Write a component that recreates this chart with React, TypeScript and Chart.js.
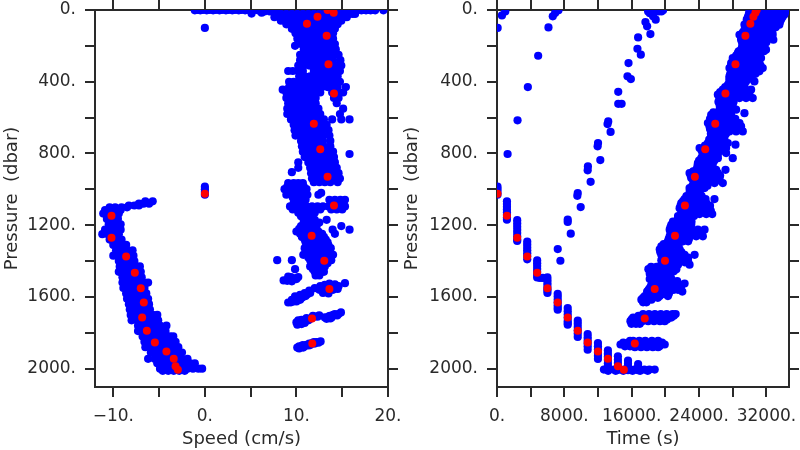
import React, { useEffect, useRef } from "react";
import { Chart, registerables } from "chart.js";

Chart.register(...registerables);

type Row = [number, number[]];

const redPressure = [0, 15, 37, 76, 143, 303, 465, 634, 777, 930, 1090, 1259, 1398, 1556, 1720, 1859, 1024, 1147, 1270, 1374, 1465, 1551, 1631, 1714, 1788, 1854, 1904, 1945, 1986, 2006];
const redSpeed = [13.4, 14.07, 12.3, 11.15, 13.3, 13.5, 14.1, 11.9, 12.6, 13.4, 14.1, 11.66, 13.04, 13.6, 11.7, 11.73, 0, -10.2, -10.2, -8.6, -7.65, -7.0, -6.67, -6.85, -6.34, -5.46, -4.2, -3.4, -3.2, -2.95];
const redTime = [30840, 30690, 30450, 30090, 29500, 28320, 27130, 25920, 24730, 23500, 22320, 21140, 19950, 18730, 17550, 16370, 60, 1180, 2400, 3590, 4770, 5990, 7210, 8400, 9590, 10770, 11990, 13170, 14360, 15070];

const speedSurface: Row[] = [
  [0, [-0.8, -0.2, 0.5, 1.2, 1.9, 2.6, 3.3, 4, 4.7, 5.4, 6.1, 6.8, 7.5, 15.3, 16, 16.7, 17.3, 17.9, 18.4]],
  [2, [-1.1, -0.5, 0.2, 0.9, 1.6, 2.3, 3, 3.7, 4.4, 5.1, 5.8, 6.5, 7.2, 7.9, 15, 15.7, 16.4, 17.1, 17.6, 18.1, 18.6, 19.5]],
  [8, [7.1, 6.5]],
  [15, [6.2]],
  [20, [5.1]],
  [100, [0]],
  [985, [0]],
  [1000, [0]],
  [1015, [0]],
  [1030, [0]],
];

const speedUpper: Row[] = [
  [22, [7.7, 8.3, 8.9, 9.5, 10.1, 10.7, 11.3, 11.9, 12.5, 13.1, 13.7, 14.3, 14.9, 15.5, 16.1, 16.4]],
  [40, [7.6, 8.2, 8.8, 9.4, 10, 10.6, 11.2, 11.8, 12.4, 13, 13.6, 14.2, 14.8, 15.5]],
  [60, [8.3, 8.9, 9.5, 10.1, 10.7, 11.3, 11.9, 12.5, 13.1, 13.7, 14.3, 14.9]],
  [80, [8.9, 9.5, 10.1, 10.7, 11.3, 11.9, 12.5, 13.1, 13.7, 14.5]],
  [105, [9.5, 10.1, 10.7, 11.3, 11.9, 12.5, 13.1, 13.7, 14.2]],
  [130, [9.9, 10.5, 11.1, 11.7, 12.3, 12.9, 13.5, 14]],
  [160, [10.1, 10.7, 11.3, 11.9, 12.5, 13.1, 13.7, 14]],
  [190, [10.5, 11.1, 11.7, 12.3, 12.9, 13.5, 14.2]],
  [200, [9.85]],
  [220, [10.8, 11.4, 12, 12.6, 13.2, 13.8, 14.3]],
  [250, [10.4, 11, 11.6, 12.2, 12.8, 13.4, 14, 14.6]],
  [280, [10.4, 11, 11.6, 12.2, 12.8, 13.4, 14, 14.8]],
  [310, [10.2, 10.8, 11.4, 12, 12.6, 13.2, 13.8, 14.4, 14.9]],
  [340, [9.1, 9.6, 10.2, 10.7, 11.9, 12.5, 13.1, 13.7, 14.2, 14.75]],
  [370, [10.3, 10.9, 11.5, 12.1, 12.7, 13.3, 13.9, 14.5]],
  [400, [9.2, 9.7, 10.4, 11, 11.6, 12.2, 12.8, 13.4, 14, 14.75]],
  [430, [9.2, 9.8, 10.4, 11, 11.6, 12.2, 12.8, 13.4, 14, 14.5, 15.4]],
  [444, [8.5]],
  [460, [8.9, 9.5, 10.1, 10.7, 11.3, 11.9, 12.6, 13.9, 14.5, 15.1]],
  [490, [8.9, 9.5, 10.1, 10.7, 11.3, 11.9, 12.1, 14.1, 14.6]],
  [520, [9.1, 9.7, 10.3, 10.9, 11.5, 12.1, 14.4]],
  [550, [9, 9.6, 10.2, 10.8, 11.4, 12, 12.4, 15.1]],
  [580, [9, 9.6, 10.2, 10.8, 11.4, 12, 12.6, 14.75]],
  [610, [9.4, 10, 10.6, 11.2, 11.8, 12.4, 13, 13.9, 14.9, 15.8]],
  [640, [9.7, 10.3, 10.9, 11.5, 12.1, 12.7, 13.3]],
  [670, [9.8, 10.4, 11, 11.6, 12.2, 12.8, 13.5]],
  [700, [9.9, 10.5, 11.1, 11.7, 12.3, 12.9, 13.6]],
  [730, [10.5, 11.1, 11.7, 12.3, 12.9, 13.7]],
  [760, [10.6, 11.2, 11.8, 12.4, 13, 13.7]],
  [790, [10.7, 11.3, 11.9, 12.5, 13.1, 13.7, 14]],
  [803, [15.8]],
  [820, [10.9, 11.5, 12.1, 12.7, 13.3, 13.9, 14.1]],
  [850, [10.2, 11.3, 11.9, 12.5, 13.1, 13.7, 14.2]],
  [880, [10.2, 11.5, 12.1, 12.7, 13.3, 13.9, 14.4]],
  [904, [9.5]],
  [910, [11.6, 12.2, 12.8, 13.4, 14, 14.6]],
  [940, [11.7, 12.3, 12.9, 13.5, 14.1, 14.75]],
  [960, [11.9, 12.5, 13.1, 13.7, 14.5]],
];

const speedMiddle: Row[] = [
  [965, [9.1, 9.7, 10.2, 10.7]],
  [985, [9, 9.6, 10.2, 10.8]],
  [999, [8.7, 9.3, 9.9, 10.5, 11.1]],
  [1020, [12.7]],
  [1030, [8.9, 9.5, 10.1, 10.7, 11.2, 12.4]],
  [1045, [9.6, 10.2, 10.7]],
  [1058, [9.9, 10.5, 11, 13.6, 14.2, 14.8, 15.3]],
  [1075, [9.7, 10.2, 10.8, 13.9, 14.5, 15]],
  [1095, [9.3, 9.9, 10.5, 11.1, 11.7, 12.3, 12.9, 13.5, 14.1, 14.7, 15.3]],
  [1112, [9.6, 10.2, 10.8, 11.4, 12, 12.6, 13.8, 14.4, 15]],
  [1130, [10.2, 10.8, 11.4, 12]],
  [1150, [10.5, 11.1, 11.7]],
  [1170, [10.8, 11.4, 12, 13.3]],
  [1185, [10.8, 11.4, 11.9, 12.5]],
  [1205, [10.5, 11.1, 11.7, 12.2, 14.9]],
  [1220, [10.3, 10.9, 11.5, 12.1]],
  [1225, [13.95, 15.8]],
  [1235, [10, 10.6, 11.2, 11.8, 12.4]],
  [1248, [14.2, 10.4, 11, 11.6, 12.2, 12.8]],
  [1265, [10.6, 11.2, 11.8, 12.4, 13]],
  [1280, [10.9, 11.5, 12.1, 12.7, 13.2]],
  [1295, [11, 11.6, 12.2, 12.8, 13.4]],
  [1312, [11.2, 11.8, 12.4, 13, 13.5]],
  [1328, [10.9, 11.5, 12.1, 12.7, 13.1, 13.75]],
  [1345, [11.2, 11.8, 12.4, 13, 13.6]],
  [1365, [10.75, 11.5, 12.1, 12.7, 13.3, 13.9, 14]],
  [1380, [11.3, 11.8, 12.4, 13, 13.6]],
  [1395, [7.9, 9.5, 11.5, 12.1, 12.7, 13.3, 13.8]],
  [1412, [11.7, 12.3, 12.9, 13.4]],
  [1430, [11.5, 12.1, 12.7, 13.1]],
  [1445, [11.8, 12.3, 12.9, 9.85]],
  [1460, [12, 12.5, 13]],
  [1480, [12.1, 12.5]],
  [1486, [9.1]],
  [1489, [10.2, 9.4]],
  [1495, [9.65]],
  [1500, [10, 9.3]],
  [1508, [8.6]],
  [1510, [9]],
  [1513, [9.5]],
];

const speedLowerBands: Row[] = [
  [1523, [15.3]],
  [1525, [13.6]],
  [1530, [14.2]],
  [1533, [13.1]],
  [1540, [12.6, 14.6]],
  [1545, [13.1, 13.7, 14.3]],
  [1551, [12]],
  [1555, [14.5]],
  [1560, [12.5, 13, 14]],
  [1565, [11.4, 13.5]],
  [1570, [13.3]],
  [1578, [10.9, 12.9, 11.5]],
  [1580, [13.5]],
  [1585, [11.2]],
  [1588, [10.4]],
  [1590, [10.6]],
  [1595, [11]],
  [1597, [9.85, 10.75]],
  [1605, [10.6]],
  [1610, [10.1]],
  [1616, [9.5, 10.4]],
  [1625, [9.65, 10]],
  [1630, [9.4]],
  [1631, [9.1]],
  [1686, [14.86]],
  [1695, [14.6]],
  [1696, [14.2]],
  [1700, [14]],
  [1703, [12.49, 14.45]],
  [1705, [13.65, 11.8]],
  [1709, [12]],
  [1710, [12.3, 13.5]],
  [1714, [13.1, 13.84]],
  [1718, [11.1, 11.65]],
  [1720, [13.7]],
  [1722, [13.29]],
  [1725, [11.4]],
  [1727, [10.56]],
  [1730, [10.2, 11.3]],
  [1735, [10.9]],
  [1742, [10]],
  [1745, [10.9]],
  [1751, [10.56]],
  [1755, [10.1]],
  [1848, [12.64]],
  [1852, [12.2, 11.9]],
  [1855, [12.4]],
  [1859, [11.65]],
  [1860, [11.4, 12]],
  [1867, [11.1]],
  [1868, [10.7, 11.5]],
  [1870, [11.3]],
  [1874, [10.56]],
  [1875, [10.3, 10.9]],
  [1882, [10.09, 10.74]],
  [1887, [10.3]],
];

const speedLeftCloud: Row[] = [
  [1067, [-6.5, -5.7]],
  [1080, [-7.2, -6.7, -6.1]],
  [1090, [-8.3, -7.7, -7.2]],
  [1100, [-10.4, -9.8, -9.1, -8.5]],
  [1115, [-10.9, -10.3, -9.7, -9.2]],
  [1135, [-11.1, -10.5, -9.9, -9.4]],
  [1165, [-10.7, -10.1, -9.5]],
  [1195, [-10.5, -9.9, -9.2]],
  [1225, [-10.9, -10.3, -9.7, -9.2]],
  [1250, [-11.2, -10.6, -10, -9.4]],
  [1280, [-10.4, -9.8, -9.1]],
  [1310, [-10, -9.4, -8.8, -8.6]],
  [1340, [-9.7, -9.1, -8.5, -7.9]],
  [1370, [-10, -9.4, -8.8, -8.2, -7.8]],
  [1400, [-9.4, -8.9, -8.3, -7.7]],
  [1430, [-9.3, -8.7, -8.1, -7.5, -7.1]],
  [1460, [-9.4, -8.8, -8.2, -7.6, -7]],
  [1490, [-9, -8.4, -7.8, -7.2, -6.9]],
  [1520, [-9, -8.4, -7.8, -7.2, -6.6, -6.2]],
  [1550, [-8.9, -8.3, -7.7, -7.1, -6.6]],
  [1580, [-8.6, -8, -7.4, -6.8, -6.4]],
  [1610, [-8.5, -7.9, -7.3, -6.7, -6.2]],
  [1640, [-8.3, -7.7, -7.1, -6.5, -6.1]],
  [1670, [-8.2, -7.6, -7, -6.4, -6]],
  [1700, [-8.1, -7.5, -6.9, -6.3, -5.7, -5.2]],
  [1730, [-8, -7.4, -6.8, -6.2, -5.6, -5.1]],
  [1760, [-7.3, -6.7, -6.1, -5.5, -4.9, -4.2]],
  [1790, [-7.3, -6.7, -6.1, -5.5, -4.9, -4.3]],
  [1820, [-6.8, -6.2, -5.6, -5, -4.4, -3.8, -3.45]],
  [1850, [-6.6, -6, -5.4, -4.8, -4.2, -3.6, -3.2]],
  [1880, [-6.5, -5.9, -5.3, -4.7, -4.1, -3.5, -2.9]],
  [1910, [-5.9, -5.3, -4.7, -4.1, -3.5, -2.9, -2.5]],
  [1945, [-6.2, -5.5, -4.9, -4.3, -3.7, -3.1, -2.5, -1.9]],
  [1970, [-5.2, -4.6, -4, -3.4, -2.8, -2.2, -1.6, -1.1]],
  [2000, [-4.9, -4.3, -3.7, -3.1, -2.5, -1.9, -1.3, -0.7, -0.3]],
  [2012, [-4.6, -4, -3.4, -2.8, -2.2]],
];

const timeSparse: Row[] = [
  [100, [76]], [30, [588]], [8, [983]], [97, [6112]], [35, [6625]], [17, [6900]], [2, [7300, 19720]],
  [255, [4889]], [430, [3665]], [615, [2440]], [803, [1259]],
  [985, [60]], [1000, [60]], [1015, [60]], [1030, [60]],
  [1494, [5440, 5100]],
  [2005, [12700, 13300, 13900, 14500, 15100, 15700, 16300, 16900, 17500, 18100, 18730]],
  [2012, [13200, 14100, 15000, 16100, 17000, 17900]],
];

const timeBarTimes = [1180, 2400, 3590, 4770, 5990, 7210, 8400, 9590, 10770, 11990, 13170, 14360, 15560, 16760];
const timeBarPressures = [
  [1067, 1082, 1097, 1112, 1127, 1142, 1157, 1169],
  [1172, 1190, 1208, 1226, 1244, 1262, 1280, 1288],
  [1292, 1308, 1324, 1340, 1356, 1372, 1390],
  [1396, 1412, 1428, 1444, 1460, 1476, 1491],
  [1491, 1507, 1523, 1539, 1555, 1566, 1578],
  [1582, 1598, 1614, 1630, 1646, 1660, 1671],
  [1662, 1680, 1698, 1716, 1734, 1745, 1755],
  [1732, 1750, 1768, 1786, 1804, 1823],
  [1807, 1824, 1841, 1858, 1875, 1894],
  [1857, 1875, 1893, 1911, 1929, 1946],
  [1898, 1916, 1934, 1952, 1970, 1985, 1996],
  [1931, 1950, 1968, 1986, 2005],
  [1955, 1972, 1990, 2008],
  [1974, 1990, 2008],
];
const timeBars: Row[] = timeBarTimes.flatMap((t, i) => timeBarPressures[i].map((p) => [p, [t]] as Row));

const timeMiddleLine: Row[] = [
  [8, [17950, 18340, 18740, 19130, 19520]],
  [18, [18150]], [35, [18540]], [54, [18850]], [67, [17630]], [91, [17830]], [134, [18220]],
  [153, [16760]], [216, [16680]], [249, [17080]], [296, [15620]], [370, [15500]], [385, [15900]],
  [456, [14400]], [523, [14400, 14800]], [621, [13210]], [636, [13130]], [680, [13490]],
  [742, [12000]], [760, [11950]], [837, [12270]], [872, [10800]], [894, [10770]], [958, [11120]],
  [1021, [9590]], [1036, [9540]], [1099, [9940]], [1169, [8400]], [1182, [8400]], [1247, [8760]],
  [1333, [7215]], [1398, [7530]],
];

const timeBands: Row[] = [
  [1845, [15800, 16170, 16900, 17600, 18400, 19130]],
  [1855, [15000, 15600, 16200, 16800, 17500, 18200, 18900, 19600]],
  [1865, [14670, 15300, 16000, 16700, 17400, 18100, 18800, 19500, 19920]],
  [1875, [15200, 15800, 16500, 17200, 17900, 18600, 19300]],
  [1880, [16370, 17100, 17800, 18500, 19130]],
  [1695, [17350, 18050, 18750, 19450, 20150, 20850, 21220]],
  [1705, [16800, 17500, 18200, 18900, 19600, 20300, 21000]],
  [1715, [16170, 16880, 17580, 18280, 18980, 19680, 20380, 20700]],
  [1725, [16000, 16700, 17400, 18100, 18800, 19500, 20200]],
  [1735, [15850, 16550, 17250, 17950, 18650, 19350, 19920]],
  [1750, [15970, 16500, 16960]],
];

const timeAscentLow: Row[] = [
  [1630, [17350, 17750]],
  [1615, [17150, 17750, 18340]],
  [1605, [17350, 17950, 18540, 19100]],
  [1595, [17550, 18140, 18730, 19330, 20300]],
  [1583, [18000, 18600, 19200, 19800, 20400]],
  [1570, [17830, 18540, 19130, 19720, 20510, 22010]],
  [1560, [18000, 18640, 19230, 19820, 20400, 21000, 21500]],
  [1550, [18140, 18730, 19330, 19920, 20510, 21100, 21720]],
  [1537, [18300, 18900, 19500, 20100, 20700, 21300, 21900]],
  [1525, [18540, 19130, 19720, 20300, 20900, 21500, 22280]],
  [1512, [18400, 19000, 19600, 20200, 20800, 21400]],
  [1500, [18140, 18730, 19330, 20110, 20700]],
  [1485, [18400, 19000, 19600, 20200, 20600]],
  [1470, [18140, 18730, 19330, 19920, 20510]],
  [1457, [18400, 19000, 19600, 20200, 20800, 21000]],
  [1445, [17980, 18730, 19330, 19920, 20510, 21300]],
  [1432, [18300, 18950, 19600, 20200, 20800, 21300]],
  [1420, [19520, 20110, 20700, 21500, 22870]],
  [1407, [19700, 20300, 20900, 21500, 22300]],
  [1395, [19520, 20300, 21100, 21890, 22680]],
  [1380, [19700, 20300, 20900, 21500, 22100, 22700]],
  [1365, [19520, 20110, 20900, 21500, 22280, 23470]],
  [1350, [19400, 20000, 20700, 21300, 21900]],
  [1335, [19330, 19920, 20510, 21690]],
  [1318, [19520, 20110, 20700, 21490]],
  [1305, [19800, 20400, 21000, 21600]],
  [1290, [20300, 20900, 21500, 22100, 22700]],
  [1276, [20400, 21000, 21600, 22200, 22800]],
  [1262, [20510, 21100, 21690, 22280, 22870, 23660, 24450]],
  [1243, [20600, 21200, 21800, 22400, 23000, 23700, 24300]],
  [1225, [20510, 21100, 21690, 22280, 23070, 23860, 24650]],
  [1212, [20600, 21200, 21800, 22400, 23000]],
  [1198, [20700, 21300, 21890, 22480, 23070]],
  [1180, [20900, 21500, 22100, 22700, 23100]],
  [1160, [21490, 22090, 22680]],
  [1149, [21500, 22100, 22700, 23400]],
  [1138, [22090, 22680, 23270, 24060, 24850, 25560]],
  [1120, [21900, 22500, 23100, 23700, 24300, 24900, 25400]],
  [1105, [21690, 22280, 22870, 23470, 24060, 24650, 25240]],
  [1091, [21800, 22400, 23000, 23600, 24200, 24800, 25300]],
  [1077, [21890, 22480, 23070, 23660, 24260, 24850]],
  [1065, [22100, 22700, 23300, 23900, 24500]],
  [1054, [22280, 22870, 23470, 24060, 24770, 25830]],
  [1037, [22500, 23100, 23700, 24300]],
  [1021, [22870, 23470, 24060]],
  [1007, [22900, 23500, 24100]],
  [993, [22870, 23470, 24060, 24650]],
  [980, [23200, 23800, 24400, 25000]],
  [965, [23470, 24060, 24850, 25830, 26820]],
  [950, [23300, 23900, 24500, 25100, 25800, 26400]],
  [937, [23070, 23860, 24450, 25040, 25830, 26430]],
  [923, [23000, 23600, 24200, 24800, 25400, 26000, 26500]],
  [909, [22870, 23470, 24260, 24850, 25630, 26230]],
  [900, [23300, 23900, 24500, 25100, 25800]],
  [891, [23660, 24450, 25240, 26030, 27140]],
  [872, [23800, 24400, 25000, 25600]],
  [854, [23860, 24450, 25040, 25630]],
  [840, [24000, 24600, 25200, 25800]],
  [826, [24260, 24850, 25440, 26230, 28000]],
  [812, [24400, 25000, 25600, 26200]],
  [798, [24450, 25040, 25630, 26230, 27210]],
  [784, [24300, 24900, 25500, 26100, 26700]],
  [770, [24060, 24850, 25630, 26430, 27210]],
  [756, [24700, 25300, 25900, 26500, 27100]],
  [751, [28320]],
  [742, [25040, 25830, 26620, 27410]],
  [723, [25200, 25800, 26400, 27000]],
  [705, [25440, 26230, 27020]],
  [690, [25400, 26000, 26600, 27200]],
  [677, [25440, 26030, 26820, 27610, 28400, 29190]],
  [663, [25300, 25900, 26500, 27100, 27800, 28500]],
  [649, [25240, 25830, 26620, 27410, 28200, 28990]],
];

const timeAscentHigh: Row[] = [
  [630, [25050, 25640, 26430, 27220, 28000, 28800]],
  [607, [25300, 25900, 26500, 27100, 27700, 28300]],
  [584, [25440, 26230, 27020, 27810]],
  [575, [29390]],
  [570, [25700, 26300, 26900, 27500]],
  [556, [26430, 27020, 27610, 28400]],
  [528, [26430, 27220, 28000]],
  [512, [26300, 26900, 27500, 28100]],
  [491, [26430, 27220, 28000, 28800, 29580, 30370]],
  [482, [26400, 27000, 27600, 28200, 28800, 29400, 30000]],
  [472, [26230, 26820, 27415, 28000, 28600, 29190, 29980]],
  [458, [26500, 27100, 27700, 28300, 28900, 29500]],
  [444, [26820, 27415, 28000, 28600, 29390, 30180]],
  [430, [27100, 27700, 28300, 28900, 29400]],
  [417, [27415, 28000, 28600]],
  [408, [27600, 28200, 28800, 29400]],
  [398, [27610, 28200, 28800, 29580, 30570]],
  [384, [27600, 28200, 28800, 29400, 30000]],
  [370, [27610, 28200, 28800, 29390, 30180]],
  [356, [27700, 28300, 28900, 29500, 30100, 30700]],
  [342, [27810, 28400, 29000, 29580, 30370, 31160]],
  [324, [27610, 28200, 28800, 29390, 30180, 30960, 31560]],
  [310, [27800, 28400, 29000, 29600, 30200, 30800, 31300]],
  [296, [27810, 28400, 28990, 29780, 30570, 31160]],
  [282, [28000, 28600, 29200, 29800, 30400, 31000]],
  [268, [28000, 28600, 29190, 29980, 30770, 31360]],
  [254, [28400, 29000, 29600, 30200, 30700]],
  [240, [28600, 29190, 29780, 30370]],
  [230, [28700, 29300, 29900, 30500, 31100, 31700]],
  [221, [28990, 29580, 30180, 30960, 31950]],
  [207, [29100, 29700, 30300, 30900, 31500]],
  [193, [29190, 29780, 30370, 30960, 31750]],
  [180, [29100, 29700, 30300, 30900, 31500, 32000]],
  [166, [28990, 29580, 30180, 30770, 31550, 32820]],
  [152, [29000, 29600, 30200, 30800, 31400, 32000, 32500]],
  [138, [28800, 29390, 29980, 30570, 31160, 31950, 32740]],
  [124, [29200, 29800, 30400, 31000, 31600, 32200, 32700]],
  [110, [29390, 29980, 30570, 31160, 31950, 32660]],
  [96, [29500, 30100, 30700, 31300, 31900, 32500, 33100]],
  [82, [29390, 29980, 30570, 31160, 31950, 32740, 33530]],
  [68, [29700, 30300, 30900, 31500, 32100, 32700, 33300, 33600]],
  [54, [29660, 30370, 30960, 31750, 32540, 33330, 33730]],
  [40, [29800, 30400, 31000, 31600, 32200, 32800, 33400, 33900]],
  [26, [29900, 30570, 31360, 32150, 32930, 33730, 34120]],
  [14, [30000, 30600, 31200, 31800, 32400, 33000, 33600, 34200]],
  [4, [29980, 30770, 31550, 32340, 33130, 33920, 34320]],
];

const speedTicks = [-10, -5, 0, 5, 10, 15, 20];
const speedLabels = ["\u221210.", "", "0.", "", "10.", "", "20."];
const timeTicks = [0, 4000, 8000, 12000, 16000, 20000, 24000, 28000, 32000];
const timeLabels = ["0.", "", "8000.", "", "16000.", "", "24000.", "", "32000."];
const pressureTicks = [0, 200, 400, 600, 800, 1000, 1200, 1400, 1600, 1800, 2000];
const pressureLabels = ["0.", "", "400.", "", "800.", "", "1200.", "", "1600.", "", "2000."];

const FONT = "'DejaVu Sans'";
const INK = "#2a2a2a";

const toPoints = (rows: Row[]) => rows.flatMap(([p, xs]) => xs.map((x) => ({ x, y: p })));

function makeConfig(
  blue: Row[][],
  redX: number[],
  xTitle: string,
  xMin: number,
  xMax: number,
  xTicks: number[],
  xLabels: string[],
  leftWidth: number,
  rightWidth: number
): any {
  const frame = {
    grid: { drawOnChartArea: false, tickLength: 10, lineWidth: 2, color: INK, tickColor: INK },
    border: { display: true, color: INK, width: 2 },
  };
  const setTicks = (values: number[]) => (s: any) => {
    s.ticks = values.map((value) => ({ value }));
  };
  const fitX = (height: number) => (s: any) => {
    s.height = height;
    s.paddingLeft = 0;
    s.paddingRight = 0;
  };
  const fitY = (width: number) => (s: any) => {
    s.width = width;
    s.paddingTop = 0;
    s.paddingBottom = 0;
  };
  const tickFont = { family: FONT, size: 17 };
  const titleFont = { family: FONT, size: 18 };
  return {
    type: "scatter",
    data: {
      datasets: [
        {
          data: redX.map((x, i) => ({ x, y: redPressure[i] })),
          backgroundColor: "#ff0000",
          borderWidth: 0,
          pointRadius: 4,
        },
        {
          data: blue.flatMap(toPoints),
          backgroundColor: "#0000ff",
          borderWidth: 0,
          pointRadius: 4.1,
        },
      ],
    },
    options: {
      animation: false,
      responsive: false,
      devicePixelRatio: 1,
      layout: { padding: 0 },
      plugins: { legend: { display: false }, tooltip: { enabled: false } },
      scales: {
        x: {
          type: "linear",
          position: "bottom",
          min: xMin,
          max: xMax,
          afterBuildTicks: setTicks(xTicks),
          afterFit: fitX(63),
          ...frame,
          ticks: { callback: (_: any, i: number) => xLabels[i], autoSkip: false, maxRotation: 0, padding: 9, color: INK, font: tickFont },
          title: { display: true, text: xTitle, color: INK, font: titleFont, padding: { top: 5, bottom: 0 } },
        },
        x2: {
          type: "linear",
          position: "top",
          min: xMin,
          max: xMax,
          afterBuildTicks: setTicks(xTicks),
          afterFit: fitX(10),
          ...frame,
          ticks: { display: false },
        },
        y: {
          type: "linear",
          position: "left",
          reverse: true,
          min: 0,
          max: 2102,
          afterBuildTicks: setTicks(pressureTicks),
          afterFit: fitY(leftWidth),
          ...frame,
          ticks: { callback: (_: any, i: number) => pressureLabels[i], autoSkip: false, padding: 9, color: INK, font: tickFont },
          title: { display: true, text: "Pressure  (dbar)", color: INK, font: titleFont, padding: { top: 2, bottom: 0 } },
        },
        y2: {
          type: "linear",
          position: "right",
          reverse: true,
          min: 0,
          max: 2102,
          afterBuildTicks: setTicks(pressureTicks),
          afterFit: fitY(rightWidth),
          ...frame,
          ticks: { display: false },
        },
      },
    },
  };
}

export default function App() {
  const leftRef = useRef<HTMLCanvasElement>(null);
  const rightRef = useRef<HTMLCanvasElement>(null);
  useEffect(() => {
    const left = new Chart(
      leftRef.current!,
      makeConfig([speedSurface, speedUpper, speedMiddle, speedLowerBands, speedLeftCloud], redSpeed, "Speed (cm/s)", -12, 20, speedTicks, speedLabels, 95, 22)
    );
    const right = new Chart(
      rightRef.current!,
      makeConfig([timeSparse, timeBars, timeMiddleLine, timeBands, timeAscentLow, timeAscentHigh], redTime, "Time (s)", 0, 34680, timeTicks, timeLabels, 97, 11)
    );
    return () => {
      left.destroy();
      right.destroy();
    };
  }, []);
  return (
    <div style={{ position: "fixed", left: 0, top: 0, width: 800, height: 450, background: "#fff" }}>
      <canvas ref={leftRef} width={410} height={450} style={{ position: "absolute", left: 0, top: 0 }} />
      <canvas ref={rightRef} width={400} height={450} style={{ position: "absolute", left: 400, top: 0 }} />
    </div>
  );
}
